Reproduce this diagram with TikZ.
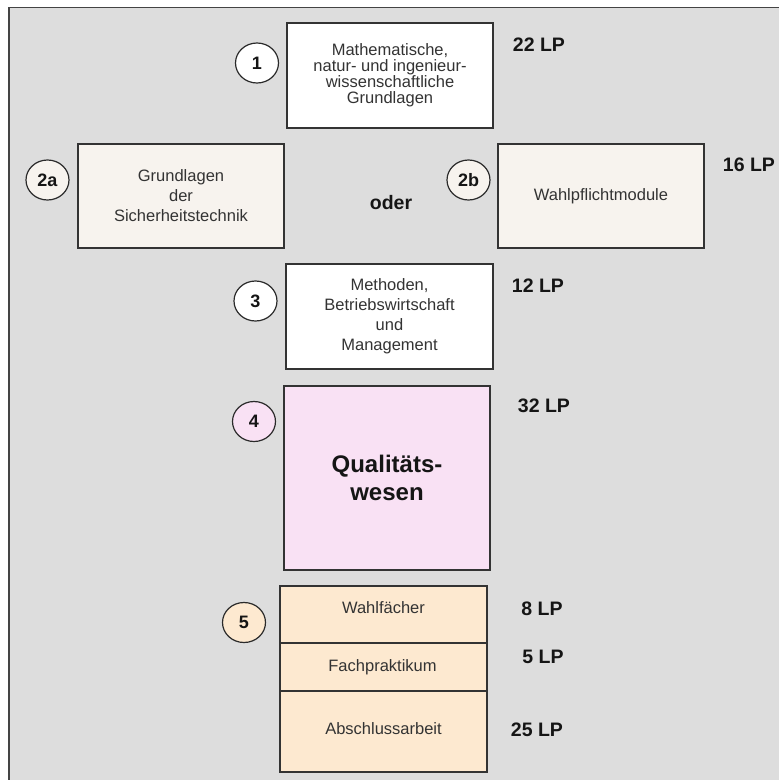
\documentclass[tikz,border=0pt]{standalone}
\usepackage{fontspec}
\setmainfont{Liberation Sans}
\usetikzlibrary{shapes.geometric}
\definecolor{bg}{HTML}{DDDDDD}
\definecolor{frame}{HTML}{444444}
\definecolor{boxline}{HTML}{333333}
\definecolor{circline}{HTML}{2A2A2A}
\definecolor{txt}{HTML}{333333}
\definecolor{lptext}{HTML}{151515}
\definecolor{beige}{HTML}{F7F3EE}
\definecolor{pink}{HTML}{F9E1F4}
\definecolor{peach}{HTML}{FDE9D0}
\begin{document}
\begin{tikzpicture}[x=1pt,y=-1pt,
  box/.style={draw=boxline, line width=1.2pt, inner sep=0pt, align=center,
    font=\fontsize{16.5}{20}\selectfont, text=txt},
  boxtext/.style={inner sep=0pt, align=center, font=\fontsize{16.5}{20}\selectfont, text=txt},
  num/.style={ellipse, draw=circline, line width=1.2pt, minimum width=43pt,
    minimum height=40pt, inner sep=0pt, text=lptext,
    font=\bfseries\fontsize{18}{20}\selectfont},
  lp/.style={inner sep=0pt, text=lptext, font=\bfseries\fontsize{19.5}{22}\selectfont}
]
\useasboundingbox (0,0) rectangle (779,780);
\fill[white] (0,0) rectangle (779,780);
\fill[bg] (9,7.5) rectangle (779,780);
\draw[frame, line width=1.5pt] (9,780) -- (9,7.5) -- (779,7.5);

% row 1
\node[box, fill=white, minimum width=206pt, minimum height=105pt,
  font=\fontsize{16.5}{16}\selectfont] (b1) at (390,75.5)
  {Mathematische,\\natur- und ingenieur-\\wissenschaftliche\\Grundlagen};
\node[num, fill=white] (c1) at (257,63) {1};
\node[lp] (lp1) at (539,45) {22 LP};

% row 2
\node[box, fill=beige, minimum width=206pt, minimum height=104pt] (b2a) at (181,196)
  {Grundlagen\\der\\Sicherheitstechnik};
\node[num, fill=beige] (c2a) at (47.5,180) {2a};
\node[box, fill=beige, minimum width=206pt, minimum height=104pt] (b2b) at (601,196)
  {Wahlpflichtmodule};
\node[num, fill=beige] (c2b) at (468.5,180) {2b};
\node[lp] (oder) at (391,203) {oder};
\node[lp] (lp2) at (749,165) {16 LP};

% row 3
\node[box, fill=white, minimum width=207pt, minimum height=105pt] (b3) at (389.5,316.5)
  {Methoden,\\Betriebswirtschaft\\und\\Management};
\node[num, fill=white] (c3) at (255.5,301) {3};
\node[lp] (lp3) at (538,286) {12 LP};

% row 4
\node[box, fill=pink, minimum width=206pt, minimum height=184pt, text=lptext,
  font=\bfseries\fontsize{24}{28}\selectfont] (b4) at (387,478)
  {Qualitäts-\\wesen};
\node[num, fill=pink] (c4) at (254,421.5) {4};
\node[lp] (lp4) at (544,406) {32 LP};

% row 5
\node[box, fill=peach, minimum width=207pt, minimum height=57pt] (w5) at (383.5,614.5) {};
\node[box, fill=peach, minimum width=207pt, minimum height=48pt] (f5) at (383.5,667) {};
\node[box, fill=peach, minimum width=207pt, minimum height=81pt] (a5) at (383.5,731.5) {};
\node[boxtext] (w5t) at ([yshift=7pt]w5.center) {Wahlfächer};
\node[boxtext] (f5t) at ([xshift=-1pt]f5.center) {Fachpraktikum};
\node[boxtext] (a5t) at ([yshift=3pt]a5.center) {Abschlussarbeit};
\node[num, fill=peach] (c5) at (244,622.5) {5};
\node[lp] (lp5) at (542,609) {8 LP};
\node[lp] (lp6) at (543,657) {5 LP};
\node[lp] (lp7) at (537,730) {25 LP};
\end{tikzpicture}
\end{document}
